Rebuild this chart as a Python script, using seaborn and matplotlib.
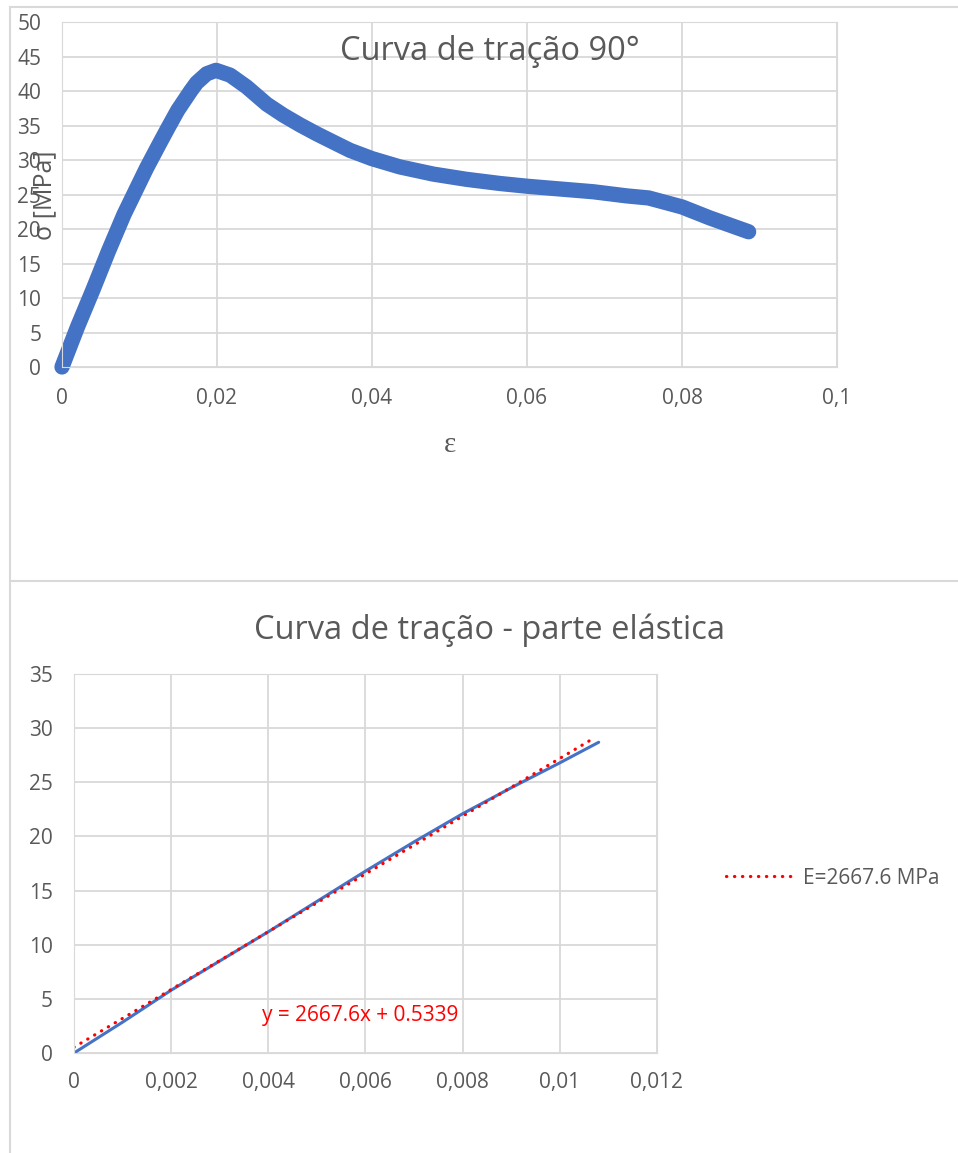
import numpy as np
import matplotlib
matplotlib.use("Agg")
import matplotlib.pyplot as plt
import seaborn as sns
from matplotlib.lines import Line2D
from matplotlib.ticker import FuncFormatter

# curva de tracao 90 graus
eps_full = [0, 0.002, 0.004, 0.006, 0.008, 0.0109, 0.01269, 0.0137, 0.01493, 0.0166,
            0.01738, 0.01867, 0.01987, 0.0217, 0.02383, 0.02641, 0.02856, 0.0307, 0.03286,
            0.035, 0.03716, 0.040, 0.0436, 0.0479, 0.0522, 0.0565, 0.060, 0.06426,
            0.06856, 0.07286, 0.0757, 0.080, 0.0836, 0.0886]
sig_full = [0, 5.8, 11.2, 16.8, 22.1, 28.8, 32.6, 34.7, 37.2, 40.0,
            41.2, 42.5, 43.0, 42.3, 40.6, 38.1, 36.5, 35.1, 33.8,
            32.6, 31.4, 30.2, 29.0, 27.96, 27.2, 26.6, 26.2, 25.8,
            25.4, 24.8, 24.5, 23.2, 21.6, 19.6]

# parte elastica
eps_el = [0, 0.001, 0.002, 0.003, 0.004, 0.005, 0.006, 0.007, 0.008, 0.009, 0.010, 0.0108]
sig_el = [0, 2.85, 5.8, 8.5, 11.2, 14.0, 16.8, 19.5, 22.1, 24.5, 26.8, 28.7]

# regressao linear
E_mod = 2667.6
b0 = 0.5339
eps_fit = [0, 0.0107]

sns.set_style("whitegrid", {"grid.color": "#d9d9d9", "axes.edgecolor": "#d9d9d9"})
plt.rcParams['font.family'] = ['Open Sans', 'DejaVu Sans']

azul = '#4472C4'
cinza = '#595959'
fmt = FuncFormatter(lambda v, p: f"{v:g}".replace('.', ','))

fig = plt.figure(figsize=(9.58, 11.53), dpi=100)

### Grafico de cima
ax1 = fig.add_axes([0.0647, 0.6817, 0.809, 0.2992])
sns.lineplot(x=eps_full, y=sig_full, ax=ax1, color=azul, linewidth=11, sort=False,
             solid_capstyle='round', solid_joinstyle='round', clip_on=False)
ax1.set_xlim(0, 0.1)
ax1.set_ylim(0, 50)
ax1.set_xticks(np.arange(0, 0.1001, 0.02))
ax1.set_yticks(np.arange(0, 51, 5))
ax1.xaxis.set_major_formatter(fmt)
ax1.tick_params(axis='both', length=0, labelsize=15, labelcolor=cinza)
ax1.tick_params(axis='y', pad=15)
ax1.tick_params(axis='x', pad=15)
ax1.grid(True, linewidth=1.3)
ax1.set_xlabel('')
ax1.set_ylabel('')
fig.text(490 / 958, 1 - 52 / 1153, 'Curva de tração 90°', ha='center', va='center',
         fontsize=23.5, color=cinza)
fig.text(45 / 958, 1 - 195 / 1153, 'σ [MPa]', rotation=90, ha='center', va='center',
         fontsize=18, color=cinza)
fig.text(450 / 958, 1 - 445 / 1153, 'ε', ha='center', va='center',
         fontsize=21, color=cinza, family=['Liberation Serif', 'DejaVu Serif'])

### Grafico de baixo
ax2 = fig.add_axes([0.0772, 0.0867, 0.6086, 0.3287])
sns.lineplot(x=eps_el, y=sig_el, ax=ax2, color=azul, linewidth=2.2)
y_fit = [E_mod * e + b0 for e in eps_fit]
sns.lineplot(x=eps_fit, y=y_fit, ax=ax2, color='#ff0000', linewidth=2.3,
             linestyle=(0, (0.1, 2.4)), dash_capstyle='round')
ax2.set_xlim(0, 0.012)
ax2.set_ylim(0, 35)
ax2.set_xticks(np.arange(0, 0.01201, 0.002))
ax2.set_yticks(np.arange(0, 36, 5))
ax2.xaxis.set_major_formatter(fmt)
ax2.tick_params(axis='both', length=0, labelsize=15, labelcolor=cinza)
ax2.tick_params(axis='y', pad=15)
ax2.tick_params(axis='x', pad=14)
ax2.grid(True, linewidth=1.3)
ax2.text(0.00387, 3.5, 'y = 2667.6x + 0.5339', color='#ff0000', fontsize=15,
         ha='left', va='center')
fig.text(490 / 958, 1 - 630 / 1153, 'Curva de tração - parte elástica', ha='center',
         va='center', fontsize=23.5, color=cinza)

h = Line2D([], [], color='#ff0000', linewidth=2.3, linestyle=(0, (0.1, 2.4)),
           dash_capstyle='round')
fig.legend([h], ['E=2667.6 MPa'], loc='center left', bbox_to_anchor=(726 / 958, 1 - 878 / 1153),
           frameon=False, borderpad=0, borderaxespad=0, handlelength=3.2, handletextpad=0.5,
           fontsize=15, labelcolor=cinza)

# molduras dos graficos
borda = '#d9d9d9'
fig.add_artist(Line2D([10 / 958, 1], [1 - 7 / 1153] * 2, color=borda, lw=1.5))
fig.add_artist(Line2D([10 / 958, 10 / 958], [0, 1 - 7 / 1153], color=borda, lw=1.5))
fig.add_artist(Line2D([10 / 958, 1], [1 - 581 / 1153] * 2, color=borda, lw=1.5))

fig.savefig('out.png', dpi=100)
